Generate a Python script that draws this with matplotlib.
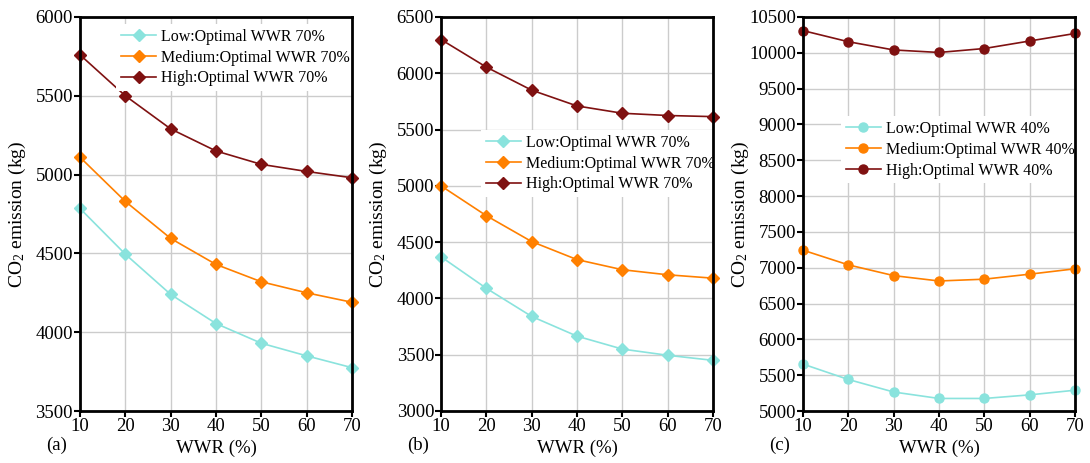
import numpy as np
import matplotlib.pyplot as plt

plt.rcParams['font.family'] = 'Liberation Serif'
plt.rcParams['mathtext.fontset'] = 'custom'
plt.rcParams['mathtext.rm'] = 'Liberation Serif'
plt.rcParams['mathtext.it'] = 'Liberation Serif:italic'

wwr = [10, 20, 30, 40, 50, 60, 70]

# panel (a)
a_low = [4785, 4495, 4240, 4055, 3930, 3850, 3775]
a_med = [5110, 4830, 4595, 4430, 4320, 4250, 4190]
a_high = [5760, 5500, 5290, 5150, 5065, 5020, 4980]
# panel (b)
b_low = [4370, 4090, 3840, 3665, 3550, 3495, 3450]
b_med = [5000, 4735, 4505, 4345, 4255, 4210, 4180]
b_high = [6300, 6055, 5850, 5710, 5645, 5625, 5615]
# panel (c)
c_low = [5655, 5440, 5265, 5175, 5175, 5225, 5290]
c_med = [7245, 7040, 6890, 6815, 6840, 6910, 6985]
c_high = [10310, 10155, 10040, 10005, 10060, 10165, 10270]

opt = ['70%', '70%', '40%']
levels = ['Low', 'Medium', 'High']
colors = ['#8ae3dd', '#ff8000', '#7f1111']

fig = plt.figure(figsize=(10.9, 4.63), dpi=100)
lefts = [0.0734, 0.4046, 0.7367]
w = 0.2495
bottom, top = 1 - 411/463., 1 - 17/463.

panels = [
    ([a_low, a_med, a_high], 'D', (3500, 6000), (0.133, 0.982), '(a)'),
    ([b_low, b_med, b_high], 'D', (3000, 6500), (0.147, 0.713), '(b)'),
    ([c_low, c_med, c_high], 'o', (5000, 10500), (0.14, 0.748), '(c)'),
]

for i, (series, mk, ylim, anchor, tag) in enumerate(panels):
    ax = fig.add_axes([lefts[i], bottom, w, top - bottom])
    for lev, ys, col in zip(levels, series, colors):
        ax.plot(wwr, ys, color=col, marker=mk, markersize=6 if mk == 'D' else 6.5,
                linewidth=1.2, label='%s:Optimal WWR %s' % (lev, opt[i]),
                clip_on=False, zorder=3)
    ax.set_xlim(10, 70)
    ax.set_ylim(*ylim)
    ax.set_xticks(wwr)
    ax.set_yticks(np.arange(ylim[0], ylim[1] + 1, 500))
    ax.grid(True, color='#cccccc', linewidth=1.0)
    ax.set_axisbelow(True)
    for s in ax.spines.values():
        s.set_linewidth(2)
        s.set_zorder(10)  # keep the frame on top of the legend box
    ax.tick_params(direction='out', length=4, width=1.5, labelsize=13.5, pad=1)
    ax.set_xlabel('WWR (%)', fontsize=13.5)
    ax.xaxis.set_label_coords(0.5, -0.072)
    ax.set_ylabel(r'CO$_2$ emission (kg)', fontsize=14)
    ax.yaxis.set_label_coords(-0.19, 0.5)
    leg = ax.legend(loc='upper left', bbox_to_anchor=anchor, fontsize=11.5, frameon=True,
                    framealpha=1, edgecolor='none', fancybox=False,
                    handlelength=2.2, handletextpad=0.3, borderpad=0.3,
                    labelspacing=0.3, borderaxespad=0)
    leg.get_frame().set_linewidth(0)
    ax.text(-0.085, -0.086, tag, transform=ax.transAxes, fontsize=13.5,
            va='center', ha='center')

fig.savefig('out.png', dpi=100)
